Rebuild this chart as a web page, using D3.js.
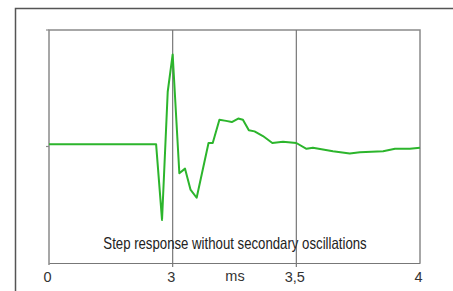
<!DOCTYPE html>
<html>
<head>
<meta charset="utf-8">
<script src="https://cdn.jsdelivr.net/npm/d3@7"></script>
<style>
  html, body { margin: 0; padding: 0; background: #fff; }
  svg { display: block; }
</style>
</head>
<body>
<div id="chart"></div>
<script>
const width = 453, height = 291;

// step response samples (x in ms, y normalised)
const timeMs = [2.5, 2.933, 2.957, 2.98, 3.0, 3.027, 3.05, 3.072, 3.097, 3.145, 3.162,
  3.189, 3.216, 3.239, 3.265, 3.284, 3.308, 3.331, 3.365, 3.403, 3.446, 3.5,
  3.541, 3.567, 3.648, 3.716, 3.757, 3.851, 3.899, 3.959, 4.0];
const response = [0.02, 0.02, -0.63, 0.47, 0.79, -0.23, -0.19, -0.37, -0.44, 0.03, 0.03,
  0.23, 0.22, 0.21, 0.24, 0.23, 0.14, 0.13, 0.09, 0.03, 0.04, 0.03,
  -0.02, -0.01, -0.04, -0.06, -0.05, -0.04, -0.02, -0.02, -0.01];

const xTicks = [2.5, 3, 3.5, 4];
const xTickLabels = ["0", "3", "3,5", "4"];
const gridLines = [3, 3.5];
const yTicks = [0, 1];
const caption = "Step response without secondary oscillations";
const unitLabel = "ms";

const margin = {top: 30, right: 33, bottom: 28, left: 49};

const svg = d3.select("#chart").append("svg")
    .attr("width", width).attr("height", height);

// outer frame (runs off the right and bottom edges)
svg.append("rect")
    .attr("x", 15.5).attr("y", 8.5)
    .attr("width", width).attr("height", height)
    .attr("fill", "none").attr("stroke", "#555").attr("stroke-width", 1.5);

const x = d3.scaleLinear().domain([2.5, 4]).range([margin.left, width - margin.right]);
const y = d3.scaleLinear().domain([-1, 1]).range([height - margin.bottom, margin.top]);

const x0 = x.range()[0], x1 = x.range()[1];
const yTop = y.range()[1], yBot = y.range()[0];

// plot frame: left, top, right
svg.append("path")
    .attr("d", `M${x0},${yBot + 2}V${yTop}H${x1}V${yBot}`)
    .attr("fill", "none").attr("stroke", "#8a8a8a").attr("stroke-width", 1.5);

// vertical grid lines
svg.selectAll(".grid").data(gridLines).enter().append("line")
    .attr("x1", d => x(d)).attr("x2", d => x(d))
    .attr("y1", yTop).attr("y2", yBot + 4)
    .attr("stroke", "#777").attr("stroke-width", 1.2);

// y ticks
svg.selectAll(".ytick").data(yTicks).enter().append("line")
    .attr("x1", x0 - 3).attr("x2", x0)
    .attr("y1", d => y(d)).attr("y2", d => y(d))
    .attr("stroke", "#8a8a8a").attr("stroke-width", 1.2);

// x axis
const xAxis = d3.axisBottom(x)
    .tickValues(xTicks)
    .tickSize(0)
    .tickPadding(9)
    .tickFormat((d, i) => xTickLabels[i]);

const gx = svg.append("g")
    .attr("transform", `translate(0,${yBot})`)
    .call(xAxis);
gx.select(".domain").attr("stroke", "#777").attr("stroke-width", 1.2);
gx.selectAll("text")
    .attr("dx", -2)
    .attr("fill", "#333")
    .style("font-family", "Liberation Sans, Arial, sans-serif")
    .style("font-size", "14.5px");

svg.append("text")
    .attr("x", 235).attr("y", 281)
    .attr("text-anchor", "middle")
    .attr("fill", "#333")
    .style("font-family", "Liberation Sans, Arial, sans-serif")
    .style("font-size", "14.5px")
    .text(unitLabel);

// caption, condensed like the original
svg.append("text")
    .attr("transform", "translate(235,249) scale(0.8,1)")
    .attr("text-anchor", "middle")
    .attr("fill", "#222")
    .style("font-family", "Liberation Sans, Arial, sans-serif")
    .style("font-size", "16.5px")
    .text(caption);

// response curve
const line = d3.line()
    .x((d, i) => x(timeMs[i]))
    .y(d => y(d));

svg.append("path")
    .datum(response)
    .attr("d", line)
    .attr("fill", "none")
    .attr("stroke", "#2cb52c")
    .attr("stroke-width", 2)
    .attr("stroke-linejoin", "round");
</script>
</body>
</html>
